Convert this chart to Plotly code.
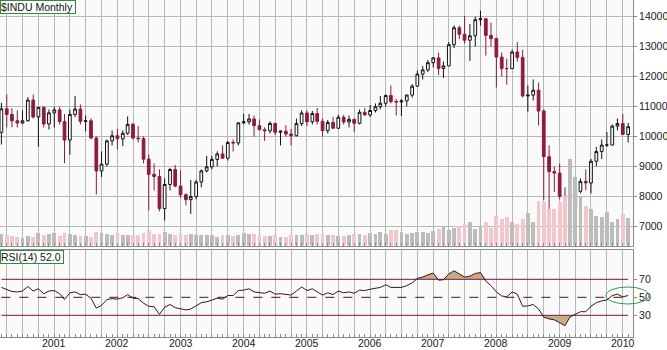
import pandas as pd
import plotly.graph_objects as go

# ---------------- data ----------------
dates = pd.date_range("2000-03-01", periods=120, freq="MS")

opens = [10137, 10922, 10734, 10522, 10448, 10522, 11215, 10651, 10971, 10415,
         10787, 10887, 10495, 9879, 10735, 10912, 10502, 10523, 9950, 8848, 9075, 9852,
         10022, 9920, 10106, 10404, 9946, 9925, 9243, 8737, 8664, 7592, 8397, 8896,
         8342, 8054, 7891, 7992, 8480, 8850, 8985, 9234, 9416, 9275, 9801, 9782,
         10454, 10488, 10584, 10358, 10226, 10188, 10435, 10140, 10174, 10080, 10027, 10428,
         10783, 10490, 10766, 10504, 10193, 10467, 10275, 10641, 10482, 10569, 10440, 10806,
         10718, 10865, 10993, 11109, 11367, 11168, 11150, 11186, 11381, 11679, 12081, 12222,
         12463, 12622, 12269, 12354, 13063, 13628, 13409, 13212, 13358, 13896, 13930, 13372,
         13265, 12650, 12266, 12263, 12820, 12638, 11350, 11378, 11544, 10851, 9325, 8829,
         8776, 8001, 7063, 7609, 8168, 8500, 8447, 9172, 9496, 9712, 9713, 10345,
         10428, 10067]
highs = [11120, 11400, 10940, 10870, 10870, 11310, 11400, 10980, 11000, 10900,
         10990, 10985, 10750, 10900, 11350, 11070, 10700, 10610, 10000, 9500, 9900, 10200,
         10260, 10200, 10670, 10450, 10350, 10000, 9400, 9100, 8900, 8600, 8950, 9050,
         8870, 8100, 8550, 8550, 8900, 9350, 9350, 9500, 9700, 9850, 9900, 10460,
         10750, 10750, 10700, 10570, 10300, 10500, 10450, 10200, 10380, 10250, 10600, 10870,
         10870, 10850, 10950, 10600, 10550, 10650, 10720, 10720, 10700, 10600, 10900, 10950,
         11050, 11100, 11350, 11400, 11700, 11250, 11250, 11400, 11750, 12200, 12350, 12550,
         12650, 12800, 12500, 13150, 13700, 13700, 14020, 13750, 14000, 14198, 13950, 13800,
         13300, 12800, 12600, 12900, 13150, 12900, 11700, 11900, 11800, 10900, 9700, 9000,
         9100, 8300, 7950, 8250, 8600, 8900, 9250, 9650, 9900, 10150, 10400, 10600,
         10750, 10450]
lows = [9731, 10300, 10300, 10300, 10410, 10500, 10600, 9654, 10300, 10230,
        10300, 10400, 9106, 9390, 10650, 10400, 10175, 9900, 8062, 8650, 9000, 9700,
        9560, 9680, 10050, 9900, 9800, 9100, 7532, 8200, 7500, 7197, 8200, 8300,
        7950, 7700, 7416, 7900, 8300, 8800, 8900, 9000, 9250, 9200, 9500, 9700,
        10400, 10400, 9990, 10200, 9850, 10100, 10050, 9700, 10000, 9700, 10000, 10350,
        10350, 10400, 10400, 10000, 10100, 10250, 10250, 10400, 10300, 10150, 10400, 10700,
        10650, 10800, 10900, 11000, 11100, 10700, 10680, 11000, 11300, 11650, 11900, 12150,
        12300, 12050, 11950, 12350, 12950, 13250, 13100, 12518, 13000, 13700, 12700, 13000,
        11635, 12000, 11731, 12250, 12500, 11300, 10827, 11200, 10365, 7882, 7449, 8149,
        7900, 7000, 6470, 7500, 8100, 8200, 8100, 9000, 9250, 9650, 9700, 10200,
        10050, 9800]
closes = [10922, 10734, 10522, 10448, 10522, 11215, 10651, 10971, 10415, 10787,
          10887, 10495, 9879, 10735, 10912, 10502, 10523, 9950, 8848, 9075, 9852, 10022,
          9920, 10106, 10404, 9946, 9925, 9243, 8737, 8664, 7592, 8397, 8896, 8342,
          8054, 7891, 7992, 8480, 8850, 8985, 9234, 9416, 9275, 9801, 9782, 10454,
          10488, 10584, 10358, 10226, 10188, 10435, 10140, 10174, 10080, 10027, 10428, 10783,
          10490, 10766, 10504, 10193, 10467, 10275, 10641, 10482, 10569, 10440, 10806, 10718,
          10865, 10993, 11109, 11367, 11168, 11150, 11186, 11381, 11679, 12081, 12222, 12463,
          12622, 12269, 12354, 13063, 13628, 13409, 13212, 13358, 13896, 13930, 13372, 13265,
          12650, 12266, 12263, 12820, 12638, 11350, 11378, 11544, 10851, 9325, 8829, 8776,
          8001, 7063, 7609, 8168, 8500, 8447, 9172, 9496, 9712, 9713, 10345, 10428,
          10067, 10325]
volume = [1200, 1100, 1000, 900, 800, 1000, 900, 1300, 1100, 1200,
          1300, 1000, 1300, 1200, 1100, 1000, 1000, 900, 1400, 1300, 1200, 1100,
          1300, 1100, 1100, 1100, 1100, 1300, 1600, 1200, 1200, 1400, 1200, 1100,
          1200, 1100, 1200, 1100, 1100, 1100, 1100, 900, 1100, 1100, 1000, 1100,
          1300, 1200, 1200, 1100, 1000, 1000, 1100, 900, 900, 1100, 1100, 1100,
          1200, 1100, 1200, 1200, 1100, 1100, 1000, 1000, 1100, 1200, 1200, 1100,
          1300, 1200, 1400, 1200, 1600, 1600, 1400, 1200, 1300, 1400, 1400, 1300,
          1500, 1700, 2000, 1600, 1800, 2000, 2200, 2400, 1700, 1900, 2400, 1800,
          3000, 2700, 2900, 2400, 2200, 2700, 3300, 2400, 4500, 4400, 3700, 3700,
          4400, 5000, 8700, 6900, 5000, 4000, 3700, 3000, 2900, 3400, 2400, 2700,
          3200, 2800]
rsi = [61, 58.5, 56.5, 56, 57, 62, 57, 59.5, 54, 57,
       57.5, 54, 47.5, 55, 56, 53, 53.5, 49, 38, 41, 47.5, 48.5,
       48, 49.5, 53, 49, 48.5, 43.5, 40, 39.5, 31, 39, 42, 38.5,
       37, 36, 37, 41, 44, 45, 47, 49, 48, 52, 52, 57.5,
       58, 59.5, 56, 55, 54.5, 57, 53.5, 54, 53, 52.5, 57, 61.5,
       57.5, 59.5, 56, 52.5, 55, 53, 57, 55, 56, 54.5, 58, 57.5,
       59, 60, 61, 64, 61, 61, 61, 63, 66, 71, 72.5, 75,
       77, 69, 69.5, 76, 79.5, 76, 72.5, 73.5, 76.5, 77.5, 68, 63,
       56, 51.5, 50.5, 56, 53.5, 40, 40.5, 42, 37, 28, 26, 25,
       22, 18.5, 28, 31, 34, 34, 40, 44, 46, 47, 52, 53.5,
       50.5, 52]

price_ticks = [7000, 8000, 9000, 10000, 11000, 12000, 13000, 14000]
rsi_levels = [30, 50, 70]
years = ["2001", "2002", "2003", "2004", "2005", "2006", "2007", "2008", "2009", "2010"]

# ---------------- styling ----------------
UP_LINE = "#111111"
DOWN = "#8c1b41"
VOL_UP = "#bcbcbc"
VOL_DOWN = "#f1c7cb"
GRID = "#b3bab3"
BOX = "#2f8a3c"
FILL = "#c8ab88"
FONT = "Liberation Sans"
FS = 10.5
H_PLOT = 337  # plot-area height in px (350 - bottom margin)

quarter_vals = list(pd.date_range("2000-04-01", "2010-01-01", freq="QS"))

vol_colors = [VOL_DOWN if c < o else VOL_UP for o, c in zip(opens, closes)]

fig = go.Figure()

# volume (overlay on price panel)
fig.add_trace(go.Bar(x=dates, y=volume, marker_color=vol_colors, marker_line_width=0,
                     width=22 * 86400000, yaxis="y3", xaxis="x2", showlegend=False,
                     hoverinfo="skip"))

# candles
fig.add_trace(go.Candlestick(
    x=dates, open=opens, high=highs, low=lows, close=closes,
    xaxis="x2", yaxis="y",
    increasing=dict(line=dict(color=UP_LINE, width=1), fillcolor="#ffffff"),
    decreasing=dict(line=dict(color=DOWN, width=1), fillcolor=DOWN),
    whiskerwidth=0, showlegend=False))

# RSI fills
hi_line = [max(v, 70) for v in rsi]
lo_line = [min(v, 30) for v in rsi]
fig.add_trace(go.Scatter(x=dates, y=[70] * len(dates), mode="lines", line=dict(width=0),
                         xaxis="x", yaxis="y2", showlegend=False, hoverinfo="skip"))
fig.add_trace(go.Scatter(x=dates, y=hi_line, mode="lines", line=dict(width=0),
                         fill="tonexty", fillcolor=FILL,
                         xaxis="x", yaxis="y2", showlegend=False, hoverinfo="skip"))
fig.add_trace(go.Scatter(x=dates, y=[30] * len(dates), mode="lines", line=dict(width=0),
                         xaxis="x", yaxis="y2", showlegend=False, hoverinfo="skip"))
fig.add_trace(go.Scatter(x=dates, y=lo_line, mode="lines", line=dict(width=0),
                         fill="tonexty", fillcolor=FILL,
                         xaxis="x", yaxis="y2", showlegend=False, hoverinfo="skip"))

# RSI reference levels
for lvl in rsi_levels:
    fig.add_trace(go.Scatter(
        x=[dates[0], dates[-1]], y=[lvl, lvl], mode="lines",
        line=dict(color="#7a1a3a" if lvl != 50 else "#4a1424", width=1,
                  dash="dash" if lvl == 50 else "solid"),
        xaxis="x", yaxis="y2", showlegend=False, hoverinfo="skip"))

# RSI line
fig.add_trace(go.Scatter(x=dates, y=rsi, mode="lines", line=dict(color="#3a1420", width=1),
                         xaxis="x", yaxis="y2", showlegend=False))

xr = ["2000-02-22", "2010-03-01"]
common_x = dict(range=xr, type="date", showgrid=True, gridcolor=GRID, gridwidth=1,
                tickvals=quarter_vals, ticktext=[""] * len(quarter_vals),
                showline=True, mirror=True,
                linecolor="#8a8a8a", zeroline=False, showticklabels=False, ticks="",
                minor=dict(dtick="M1", ticks="inside", ticklen=3, tickcolor="#8a8a8a",
                           showgrid=False))

fig.update_layout(
    width=667, height=350,
    margin=dict(l=0, r=34, t=0, b=350 - H_PLOT, pad=0),
    paper_bgcolor="#ffffff", plot_bgcolor="#fafafa",
    font=dict(family=FONT, size=FS, color="#1a1a1a"),
    bargap=0, boxgap=0.2,
    xaxis=dict(**common_x, anchor="y2", automargin=False),
    xaxis2=dict(**common_x, anchor="y", matches="x"),
    yaxis=dict(domain=[0.2715, 1], range=[6360, 14554], side="right",
               tickvals=price_ticks, ticktext=[str(v) for v in price_ticks],
               ticks="outside", ticklen=3, tickcolor="#8a8a8a",
               showgrid=True, gridcolor=GRID, showline=True, mirror=True,
               linecolor="#8a8a8a", zeroline=False, tickfont=dict(size=FS),
               automargin=False),
    yaxis3=dict(overlaying="y", range=[0, 24700], visible=False),
    yaxis2=dict(domain=[0, 0.2582], range=[5.9, 102.6], side="right",
                tickvals=rsi_levels, ticktext=[str(v) for v in rsi_levels],
                ticks="outside", ticklen=3, tickcolor="#8a8a8a",
                showgrid=False, showline=True, mirror=True, linecolor="#8a8a8a",
                zeroline=False, tickfont=dict(size=FS), automargin=False),
    xaxis_rangeslider_visible=False,
    xaxis2_rangeslider_visible=False,
)

# year labels under the RSI panel
for yr in years:
    fig.add_annotation(text=yr, x=pd.Timestamp(f"{yr}-01-01"), xref="x",
                       y=-(350 - H_PLOT) / H_PLOT, yref="paper",
                       xanchor="center", yanchor="bottom", showarrow=False,
                       font=dict(size=FS, color="#1a1a1a"), borderpad=0)

fig.add_annotation(text="$INDU Monthly ", xref="paper", yref="paper", x=0, y=1,
                   xanchor="left", yanchor="top", showarrow=False,
                   font=dict(size=FS, color="#111111"), bgcolor="#ffffff",
                   bordercolor=BOX, borderwidth=1, borderpad=0)
fig.add_annotation(text="RSI(14) 52.0 ", xref="paper", yref="paper", x=0, y=0.2582,
                   xanchor="left", yanchor="top", showarrow=False,
                   font=dict(size=FS, color="#111111"), bgcolor="#ffffff",
                   bordercolor=BOX, borderwidth=1, borderpad=0)

# highlight ellipse around the latest RSI reading
fig.add_shape(type="circle", xref="paper", yref="paper",
              x0=606 / 633, x1=649 / 633, y0=(H_PLOT - 304) / H_PLOT,
              y1=(H_PLOT - 287) / H_PLOT,
              line=dict(color="#3a9a4a", width=1))

fig.write_html("out.html")
